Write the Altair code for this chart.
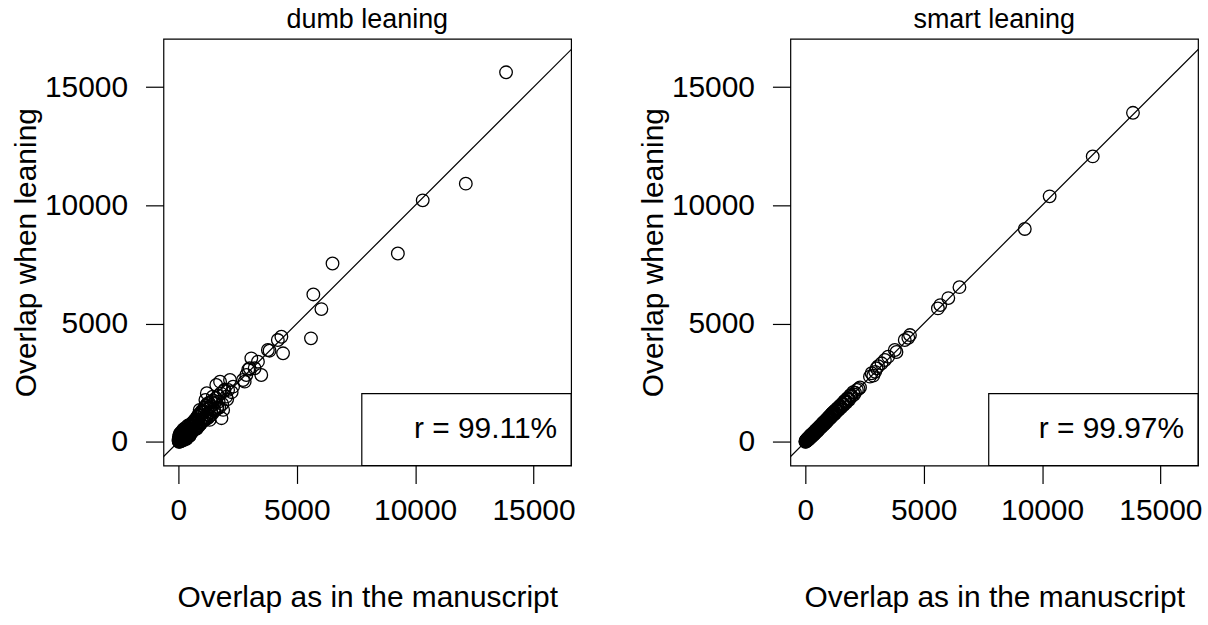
import altair as alt
import pandas as pd

# shared x values: overlap as in the manuscript
x_manuscript = [
    10, 20, 30, 40, 50, 60, 70, 80, 90, 100,
    110, 120, 130, 140, 150, 160, 170, 180, 190, 200,
    215, 230, 245, 260, 275, 290, 305, 320, 335, 350,
    370, 390, 410, 430, 450, 470, 490, 510, 530, 550,
    575, 600, 625, 650, 675, 700, 725, 750, 780, 810,
    840, 870, 900, 930, 960, 990, 1020, 1050, 1080, 1110,
    1140, 1170, 1200, 1240, 1280, 1320, 1360, 1400, 1450, 1500,
    1550, 1600, 1650, 1700, 1760, 1820, 1890, 1950, 2020, 2100,
    2180, 2250, 2310, 2730, 2800, 2870, 2950, 3010, 3080, 3220,
    3360, 3500, 3780, 3850, 4200, 4350, 4420, 5600, 5700, 6040,
    6510, 9270, 10320, 12140, 13840,
    5, 25, 45, 65, 85, 105, 125, 145, 165, 185,
    210, 235, 255, 280, 310, 340, 365, 395, 425, 455,
    485, 515, 545, 580, 610, 640, 670, 705, 735, 765,
    795, 825, 855, 885, 915, 945, 975, 1005, 1035, 1065,
    1095, 1125, 1155, 1185, 1215, 1255, 1295, 1335, 1375, 1420,
    1470, 1520, 1580, 1630, 1680, 1730, 1790, 1850, 1920, 2060,
]

# overlap when leaning, dumb leaning
y_dumb = [
    40, 0, 150, 60, 320, 10, 200, 90, 380, 60,
    250, 30, 180, 420, 90, 300, 60, 240, 130, 520,
    150, 380, 90, 460, 310, 170, 600, 240, 420, 150,
    560, 280, 690, 330, 480, 250, 720, 400, 610, 380,
    790, 470, 700, 850, 520, 930, 610, 800, 560, 1060,
    700, 950, 1351, 780, 1120, 860, 1250, 940, 1380, 1010,
    1773, 1050, 2056, 1150, 1400, 929, 1500, 1250, 1912, 1380,
    1650, 2406, 1450, 1701, 2546, 1000, 1351, 2200, 1912, 2195,
    2617, 2100, 2335, 2617, 2546, 2828, 3050, 3111, 3532, 3111,
    3390, 2828, 3884, 3855, 4306, 4445, 3745, 4377, 6234, 5614,
    7543, 7965, 10215, 10920, 15630,
    90, 220, 10, 280, 130, 350, 60, 230, 410, 110,
    330, 120, 480, 200, 390, 130, 520, 300, 610, 240,
    660, 350, 750, 420, 820, 500, 880, 560, 960, 620,
    1050, 640, 1150, 700, 1180, 760, 1290, 850, 1320, 900,
    1450, 930, 1520, 980, 1600, 1020, 1650, 1100, 1700, 1180,
    1750, 1300, 1850, 1400, 1950, 1450, 2050, 1600, 2150, 1800,
]

# overlap when leaning, smart leaning
y_smart = [
    15, 30, 45, 25, 70, 60, 90, 70, 110, 95,
    130, 110, 150, 170, 140, 190, 160, 210, 180, 240,
    230, 270, 240, 300, 280, 320, 310, 360, 340, 390,
    400, 410, 450, 440, 490, 480, 530, 520, 570, 560,
    610, 600, 670, 660, 720, 710, 770, 760, 830, 820,
    890, 870, 950, 930, 1010, 990, 1080, 1050, 1140, 1100,
    1210, 1160, 1270, 1240, 1340, 1310, 1420, 1390, 1500, 1480,
    1600, 1580, 1720, 1690, 1830, 1800, 1950, 1912, 2100, 2080,
    2195, 2240, 2300, 2757, 2900, 2800, 2960, 3111, 3200, 3322,
    3461, 3601, 3884, 3800, 4306, 4400, 4517, 5644, 5784, 6079,
    6543, 9004, 10384, 12073, 13917,
    0, 60, 80, 50, 130, 70, 170, 110, 210, 150,
    260, 190, 300, 230, 350, 290, 400, 340, 470, 400,
    530, 460, 590, 530, 650, 590, 710, 660, 790, 710,
    840, 770, 900, 830, 960, 900, 1030, 960, 1090, 1020,
    1160, 1080, 1210, 1140, 1280, 1200, 1350, 1290, 1420, 1360,
    1530, 1460, 1630, 1570, 1730, 1660, 1830, 1780, 1980, 2000,
]

panel_titles = ["dumb leaning", "smart leaning"]
r_labels = ["r = 99.11%", "r = 99.97%"]
tick_values = [0, 5000, 10000, 15000]
x_domain = [-631, 16588]
y_domain = [-1000, 17043]
diag = [-2000, 20000]

FONT = "Liberation Sans"
FS = 30
W, H = 409, 428


def panel(yvals, title, rlabel):
    df = pd.DataFrame({"x": x_manuscript, "y": yvals})
    xs = alt.Scale(domain=x_domain, nice=False, zero=False)
    ys = alt.Scale(domain=y_domain, nice=False, zero=False)
    xax = alt.Axis(values=tick_values, title="Overlap as in the manuscript",
                   labelPadding=12, titlePadding=57, format="d")
    yax = alt.Axis(values=tick_values, title="Overlap when leaning",
                   labelPadding=18, titlePadding=3, format="d")

    line = alt.Chart(pd.DataFrame({"x": diag, "y": diag})).mark_line(
        color="black", strokeWidth=1.2, clip=True
    ).encode(x=alt.X("x:Q", scale=xs, axis=xax), y=alt.Y("y:Q", scale=ys, axis=yax))

    pts = alt.Chart(df).mark_point(
        shape="circle", filled=False, color="black", size=160, strokeWidth=1.3, opacity=1
    ).encode(x=alt.X("x:Q", scale=xs), y=alt.Y("y:Q", scale=ys))

    lab = pd.DataFrame({"label": [rlabel]})
    box = alt.Chart(lab).mark_rect(fill="white", stroke="black", strokeWidth=1.2).encode(
        x=alt.value(199), x2=alt.value(W), y=alt.value(356), y2=alt.value(H)
    )
    txt = alt.Chart(lab).mark_text(
        align="right", baseline="middle", font=FONT, fontSize=FS, color="black"
    ).encode(x=alt.value(395), y=alt.value(391), text="label:N")

    return alt.layer(line, pts, box, txt).properties(
        width=W, height=H,
        title=alt.TitleParams(title, fontSize=27, font=FONT, fontWeight="normal",
                              color="black", offset=5),
    )


chart = alt.hconcat(
    panel(y_dumb, panel_titles[0], r_labels[0]),
    panel(y_smart, panel_titles[1], r_labels[1]),
    spacing=61,
).properties(
    padding={"left": 10, "top": 4, "right": 5, "bottom": 5},
    background="white",
).configure_view(
    stroke="black", strokeWidth=1.2
).configure_axis(
    grid=False, domain=False, tickColor="black", tickSize=18, tickWidth=1.2,
    labelFont=FONT, labelFontSize=FS, labelColor="black",
    titleFont=FONT, titleFontSize=FS, titleColor="black", titleFontWeight="normal",
)

chart.save("out.html", embed_options={"renderer": "svg", "actions": False})
